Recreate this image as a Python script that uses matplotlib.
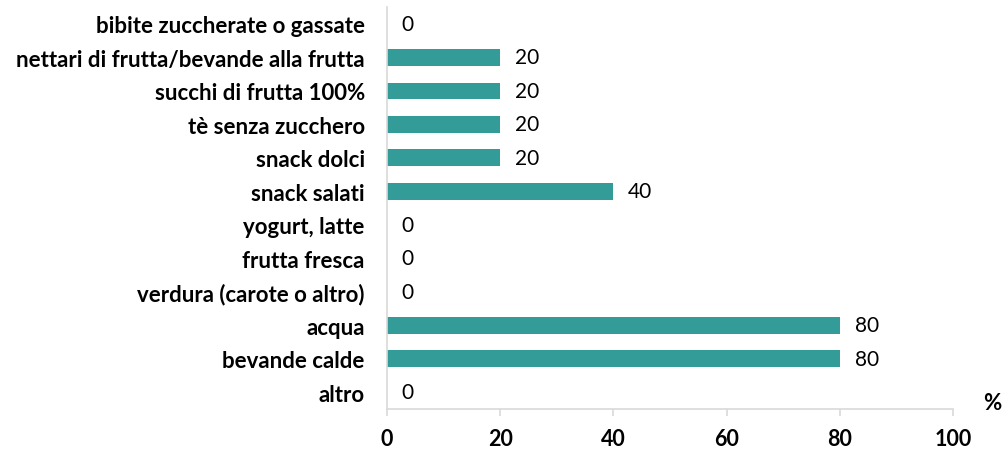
import matplotlib
matplotlib.use("Agg")
import matplotlib.pyplot as plt

categories = ["bibite zuccherate o gassate", "nettari di frutta/bevande alla frutta",
              "succhi di frutta 100%", "tè senza zucchero", "snack dolci", "snack salati",
              "yogurt, latte", "frutta fresca", "verdura (carote o altro)", "acqua",
              "bevande calde", "altro"]
values = [0, 20, 20, 20, 20, 40, 0, 0, 0, 80, 80, 0]
xticks = [0, 20, 40, 60, 80, 100]

plt.rcParams['font.family'] = ['Lato', 'DejaVu Sans']

fig = plt.figure(figsize=(10.02, 4.56), dpi=100)
ax = fig.add_axes([0.3862, 0.101, 0.565, 0.881])
n = len(categories)
ypos = list(range(n))[::-1]
ax.barh(ypos, values, height=0.5, color="#339b98")
for y, v in zip(ypos, values):
    ax.text(v + 2.6, y, f"{v}", va="center", ha="left", fontsize=15, color="#000000")
ax.set_yticks(ypos)
ax.set_yticklabels(categories, fontsize=16, fontweight="bold")
ax.set_ylim(-0.5, n - 0.5)
ax.set_xlim(0, 100)
ax.set_xticks(xticks)
ax.set_xticklabels([str(t) for t in xticks], fontsize=15.5, fontweight="bold")
ax.tick_params(axis="y", length=0, pad=16)
ax.tick_params(axis="x", length=5, color="#d9d9d9", width=1.2, pad=9)
for s in ["top", "right"]:
    ax.spines[s].set_visible(False)
for s in ["left", "bottom"]:
    ax.spines[s].set_color("#d9d9d9")
    ax.spines[s].set_linewidth(1.2)
fig.text(0.999, 0.115, "%", ha="right", va="center", fontsize=16, fontweight="bold")
fig.savefig("out.png", dpi=100)
